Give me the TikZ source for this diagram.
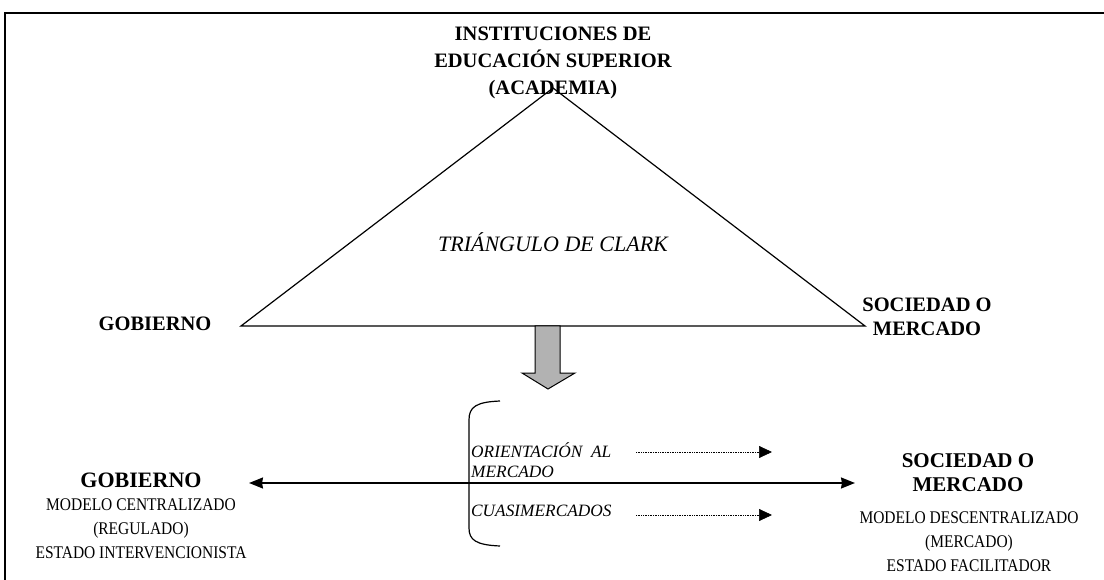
\documentclass[tikz,border=0pt]{standalone}
\usepackage{fontspec}
\setmainfont{Liberation Serif}
\newfontfamily\tallserif[FakeStretch=0.87]{Liberation Serif}
\usetikzlibrary{arrows.meta}
\begin{document}
\begin{tikzpicture}[x=1pt,y=-1pt,
  bigbold/.style={font=\fontsize{20.5}{24}\selectfont\bfseries, align=center, inner sep=0pt},
  smalltxt/.style={align=center, inner sep=0pt, font=\tallserif\fontsize{17.8}{24}\selectfont},
  itlabel/.style={font=\fontsize{17.3}{20}\selectfont\itshape, align=left, inner sep=0pt, anchor=west},
  tri/.style={line width=1.2pt},
  frame/.style={line width=2.5pt},
  dotarrow/.style={densely dotted, line width=0.7pt, -{Triangle[length=13pt,width=12pt]}},
  bigarrow/.style={line width=1.5pt, {Stealth[length=14pt,width=11pt,inset=1pt]}-{Stealth[length=14pt,width=11pt,inset=1pt]}}
]
\useasboundingbox (0,0) rectangle (1104,580);
% frame
\draw[frame] (5,580) -- (5,13) -- (1104,13);
% triangle
\coordinate (apex) at (553,88);
\coordinate (bl) at (241,326);
\coordinate (br) at (865,326);
\draw[tri] (apex) -- (bl) -- (br) -- cycle;
% top label
\node[bigbold, font=\fontsize{20.5}{27}\selectfont\bfseries] (ies) at (553,63) {INSTITUCIONES DE\\EDUCACIÓN SUPERIOR\\(ACADEMIA)};
\node[bigbold] (gob1) at (155,324) {GOBIERNO};
\node[bigbold] (soc1) at (927,317) {SOCIEDAD O\\MERCADO};
\node[inner sep=0pt, font=\fontsize{22}{24}\selectfont\itshape] (clark) at (553,242) {TRIÁNGULO DE CLARK};
% gray arrow
\draw[fill=black!30, line width=1pt] (535,326) -- (560,326) -- (560,373) -- (575,373) -- (548,389) -- (522,373) -- (535,373) -- cycle;
% brace
\draw[line width=1.2pt] (500,401) .. controls (476,402) and (469,407) .. (469,420) -- (469,528) .. controls (469,540) and (476,545) .. (500,546);
% lower axis
\node[bigbold, font=\fontsize{22}{24}\selectfont\bfseries] (gob2) at (141,480) {GOBIERNO};
\node[bigbold, font=\fontsize{21}{24}\selectfont\bfseries] (soc2) at (968,473) {SOCIEDAD O\\MERCADO};
\node[smalltxt] (gobtxt) at (141,529) {MODELO CENTRALIZADO\\(REGULADO)\\ESTADO INTERVENCIONISTA};
\node[smalltxt] (soctxt) at (969,542) {MODELO DESCENTRALIZADO\\(MERCADO)\\ESTADO FACILITADOR};
\coordinate (axl) at (249,483);
\coordinate (axr) at (855,483);
\draw[bigarrow] (axl) -- (axr);
% italic labels
\node[itlabel] (orient) at (471,460) {ORIENTACIÓN\ \ AL\\MERCADO};
\node[itlabel] (cuasi) at (471,511) {CUASIMERCADOS};
\coordinate (d1s) at (636,452);
\coordinate (d1e) at (772,452);
\coordinate (d2s) at (636,515);
\coordinate (d2e) at (772,515);
\draw[dotarrow] (d1s) -- (d1e);
\draw[dotarrow] (d2s) -- (d2e);
\end{tikzpicture}
\end{document}
